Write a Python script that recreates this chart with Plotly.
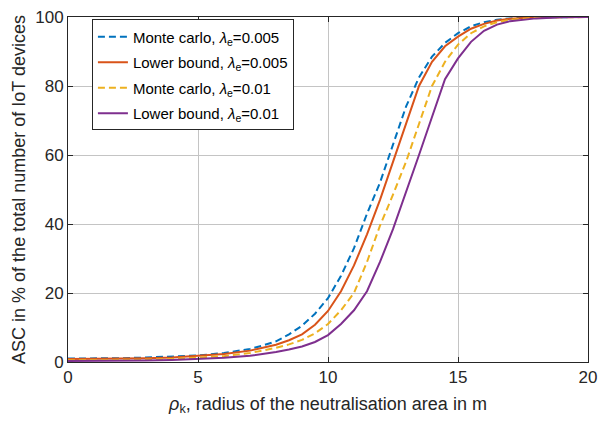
import plotly.graph_objects as go

x = [0, 1, 2, 3, 4, 5, 6, 7, 7.5, 8, 8.5, 9, 9.5, 10, 10.5, 11, 11.5, 12, 12.5,
     13, 13.5, 14, 14.5, 15, 15.5, 16, 16.5, 17, 18, 19, 20]

mc_005 = [1.0, 1.0, 1.1, 1.3, 1.5, 1.9, 2.6, 3.8, 4.8, 6.0, 8.0, 10.5, 14.0, 18.5, 25.0,
          33.0, 43.0, 52.0, 63.0, 74.0, 82.5, 88.5, 92.5, 95.3, 97.3, 98.5, 99.2, 99.6,
          99.9, 100.0, 100.0]
lb_005 = [0.9, 0.9, 1.0, 1.1, 1.3, 1.7, 2.3, 3.3, 4.1, 5.0, 6.3, 8.0, 10.8, 14.8, 20.5,
          28.0, 37.0, 47.0, 58.0, 69.0, 80.0, 87.0, 91.5, 94.3, 96.6, 98.0, 99.0, 99.5,
          99.9, 100.0, 100.0]
mc_001 = [0.5, 0.5, 0.6, 0.7, 0.9, 1.2, 1.7, 2.6, 3.3, 4.1, 5.1, 6.4, 8.3, 11.0, 15.0,
          20.0, 29.0, 39.5, 48.5, 58.0, 69.0, 80.0, 87.0, 92.0, 95.3, 97.3, 98.5, 99.2,
          99.8, 100.0, 100.0]
lb_001 = [0.3, 0.3, 0.35, 0.45, 0.6, 0.8, 1.2, 1.8, 2.3, 2.9, 3.6, 4.5, 5.8, 7.8, 11.0,
          15.0, 20.5, 29.0, 38.5, 49.0, 60.0, 71.0, 82.0, 88.0, 92.8, 96.0, 97.8, 98.8,
          99.6, 99.9, 100.0]

names = ["Monte carlo, <i>λ</i><sub>e</sub>=0.005",
         "Lower bound, <i>λ</i><sub>e</sub>=0.005",
         "Monte carlo, <i>λ</i><sub>e</sub>=0.01",
         "Lower bound, <i>λ</i><sub>e</sub>=0.01"]
series = [mc_005, lb_005, mc_001, lb_001]
colors = ["#0072BD", "#D95319", "#EDB120", "#7E2F8E"]
dashes = ["7px,4px", "solid", "7px,4px", "solid"]

fig = go.Figure()
for i, (nm, ys, c, d) in enumerate(zip(names, series, colors, dashes)):
    fig.add_trace(go.Scatter(x=x, y=ys, mode="lines", name=nm, legendgroup=str(i),
                             line=dict(color=c, width=2, dash=d)))

axis_common = dict(showline=True, linecolor="#262626", linewidth=1, mirror="ticks",
                   ticks="inside", ticklen=5, tickcolor="#262626",
                   showgrid=True, gridcolor="#c4c4c4", gridwidth=1, zeroline=False,
                   ticklabeloverflow="allow",
                   tickfont=dict(size=17, color="#262626"))

fig.update_layout(
    width=613, height=425,
    margin=dict(l=68, r=25, t=8, b=63),
    paper_bgcolor="white", plot_bgcolor="white",
    font=dict(family="Liberation Sans, Arial, sans-serif", color="#262626"),
    xaxis=dict(range=[0, 20], dtick=5,
               title=dict(text="<i>ρ</i><sub>k</sub>, radius of the neutralisation area in m",
                          font=dict(size=18), standoff=10),
               **axis_common),
    yaxis=dict(range=[0, 100], dtick=20,
               title=dict(text="ASC in % of the total number of IoT devices",
                          font=dict(size=18), standoff=4),
               **axis_common),
    legend=dict(x=0.046, y=0.993, xanchor="left", yanchor="top",
                bordercolor="#262626", borderwidth=1, bgcolor="white",
                font=dict(size=15, color="black"), tracegroupgap=3,
                itemwidth=30),
    showlegend=True,
)

fig.write_html("out.html")
